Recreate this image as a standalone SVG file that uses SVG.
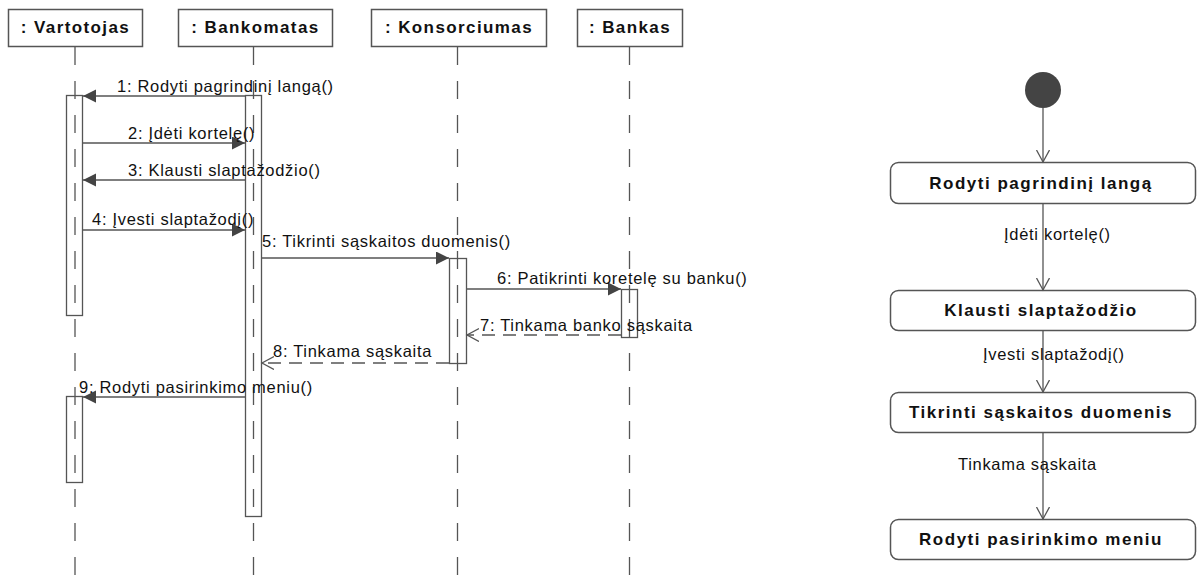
<svg xmlns="http://www.w3.org/2000/svg" width="1202" height="575" viewBox="0 0 1202 575">
  <style>
    .head { fill: #fff; stroke: #555; stroke-width: 1.5; }
    .headtxt { font-family: "Liberation Sans", Arial, sans-serif; font-weight: bold; font-size: 17px; letter-spacing: 1.4px; fill: #111; text-anchor: middle; }
    .life { stroke: #555; stroke-width: 1.3; stroke-dasharray: 18 16; fill: none; }
    .act { fill: #fff; fill-opacity: 0; stroke: #555; stroke-width: 1.3; }
    .msg { stroke: #555; stroke-width: 1.3; fill: none; }
    .ret { stroke: #555; stroke-width: 1.3; fill: none; stroke-dasharray: 13 8; }
    .lbl { font-family: "Liberation Sans", Arial, sans-serif; font-size: 16.5px; letter-spacing: 0.7px; fill: #111; }
    .state { fill: #fff; stroke: #555; stroke-width: 1.5; }
    .statetxt { font-family: "Liberation Sans", Arial, sans-serif; font-weight: bold; font-size: 17px; letter-spacing: 1.5px; fill: #111; text-anchor: middle; }
    .edge { stroke: #555; stroke-width: 1.3; fill: none; }
  </style>
  <defs>
    <marker id="filled" markerUnits="userSpaceOnUse" markerWidth="14" markerHeight="14" refX="13" refY="6.5" orient="auto">
      <path d="M0,0 L13,6.5 L0,13 z" fill="#444"/>
    </marker>
    <marker id="open" markerUnits="userSpaceOnUse" markerWidth="14" markerHeight="16" refX="12" refY="7" orient="auto">
      <path d="M0,0.5 L12,7 L0,13.5" fill="none" stroke="#555" stroke-width="1.3"/>
    </marker>
  </defs>

  <!-- sequence diagram: lifelines -->
  <g id="lifeline-vartotojas">
    <rect class="head" x="8.5" y="9.5" width="134" height="37"/>
    <text class="headtxt" x="75.5" y="33">: Vartotojas</text>
    <line class="life" x1="75" y1="47" x2="75" y2="575"/>
    <rect class="act" x="66.5" y="95.5" width="16" height="220"/>
    <rect class="act" x="66.5" y="396.5" width="16" height="86"/>
  </g>
  <g id="lifeline-bankomatas">
    <rect class="head" x="178.5" y="9.5" width="154" height="37"/>
    <text class="headtxt" x="255.5" y="33">: Bankomatas</text>
    <line class="life" x1="253.5" y1="47" x2="253.5" y2="575"/>
    <rect class="act" x="245.5" y="95.5" width="16" height="421"/>
  </g>
  <g id="lifeline-konsorciumas">
    <rect class="head" x="371.5" y="9.5" width="175" height="37"/>
    <text class="headtxt" x="459" y="33">: Konsorciumas</text>
    <line class="life" x1="457.5" y1="47" x2="457.5" y2="575"/>
    <rect class="act" x="449.5" y="258.5" width="17" height="105"/>
  </g>
  <g id="lifeline-bankas">
    <rect class="head" x="577.5" y="9.5" width="105" height="37"/>
    <text class="headtxt" x="630" y="33">: Bankas</text>
    <line class="life" x1="629.5" y1="47" x2="629.5" y2="575"/>
    <rect class="act" x="621.5" y="289.5" width="16" height="48"/>
  </g>

  <!-- sequence diagram: messages -->
  <g id="messages">
    <line class="msg" x1="245" y1="96" x2="83" y2="96" marker-end="url(#filled)"/>
    <text class="lbl" x="117" y="92">1: Rodyti pagrindinį langą()</text>

    <line class="msg" x1="83" y1="143" x2="245" y2="143" marker-end="url(#filled)"/>
    <text class="lbl" x="128" y="139">2: Įdėti kortelę()</text>

    <line class="msg" x1="245" y1="180" x2="83" y2="180" marker-end="url(#filled)"/>
    <text class="lbl" x="128" y="176">3: Klausti slaptažodžio()</text>

    <line class="msg" x1="83" y1="230" x2="245" y2="230" marker-end="url(#filled)"/>
    <text class="lbl" x="92" y="225">4: Įvesti slaptažodį()</text>

    <line class="msg" x1="262" y1="258" x2="449" y2="258" marker-end="url(#filled)"/>
    <text class="lbl" x="262" y="247">5: Tikrinti sąskaitos duomenis()</text>

    <line class="msg" x1="467" y1="289" x2="621" y2="289" marker-end="url(#filled)"/>
    <text class="lbl" x="497" y="284">6: Patikrinti koretelę su banku()</text>

    <line class="ret" x1="621" y1="335" x2="467" y2="335" marker-end="url(#open)"/>
    <text class="lbl" x="480" y="331">7: Tinkama banko sąskaita</text>

    <line class="ret" x1="449" y1="363" x2="262" y2="363" marker-end="url(#open)"/>
    <text class="lbl" x="273" y="357">8: Tinkama sąskaita</text>

    <line class="msg" x1="245" y1="397" x2="83" y2="397" marker-end="url(#filled)"/>
    <text class="lbl" x="79" y="393">9: Rodyti pasirinkimo meniu()</text>
  </g>

  <!-- activity diagram: nodes -->
  <g id="start">
    <circle cx="1043" cy="90" r="18" fill="#444"/>
  </g>
  <g id="state-rodyti-langa">
    <rect class="state" x="890.5" y="162.5" width="305" height="41" rx="8"/>
    <text class="statetxt" x="1041" y="189">Rodyti pagrindinį langą</text>
  </g>
  <g id="state-klausti">
    <rect class="state" x="890.5" y="290.5" width="305" height="40" rx="8"/>
    <text class="statetxt" x="1041" y="316">Klausti slaptažodžio</text>
  </g>
  <g id="state-tikrinti">
    <rect class="state" x="890.5" y="392.5" width="305" height="40" rx="8"/>
    <text class="statetxt" x="1041" y="418">Tikrinti sąskaitos duomenis</text>
  </g>
  <g id="state-meniu">
    <rect class="state" x="890.5" y="519.5" width="305" height="40" rx="8"/>
    <text class="statetxt" x="1041" y="545">Rodyti pasirinkimo meniu</text>
  </g>

  <!-- activity diagram: transitions -->
  <g id="transitions">
    <line class="edge" x1="1043" y1="108" x2="1043" y2="162" marker-end="url(#open)"/>
    <line class="edge" x1="1043" y1="204" x2="1043" y2="290" marker-end="url(#open)"/>
    <text class="lbl" x="1004" y="240">Įdėti kortelę()</text>
    <line class="edge" x1="1043" y1="331" x2="1043" y2="392" marker-end="url(#open)"/>
    <text class="lbl" x="983" y="360">Įvesti slaptažodį()</text>
    <line class="edge" x1="1043" y1="433" x2="1043" y2="519" marker-end="url(#open)"/>
    <text class="lbl" x="958" y="470">Tinkama sąskaita</text>
  </g>
</svg>
